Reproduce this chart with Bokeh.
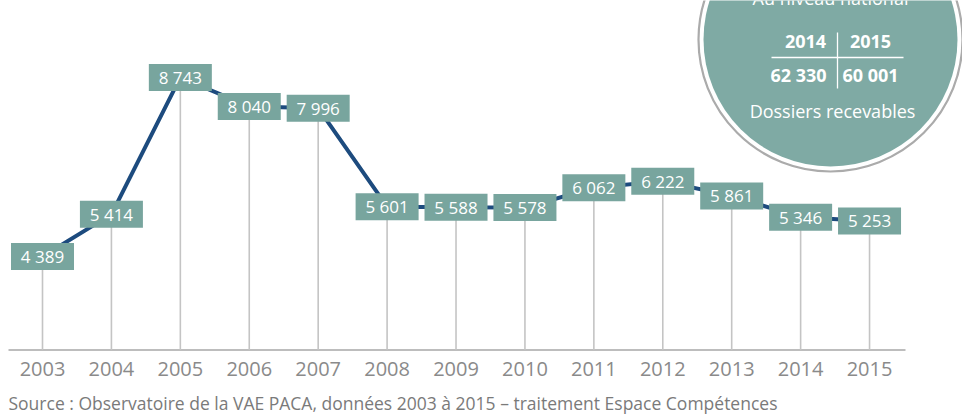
from bokeh.plotting import figure
from bokeh.models import Range1d, ColumnDataSource
from bokeh.embed import file_html
from bokeh.resources import INLINE
from bokeh.core.properties import value

# ---- data ----
years = [2003, 2004, 2005, 2006, 2007, 2008, 2009, 2010, 2011, 2012, 2013, 2014, 2015]
counts = [4389, 5414, 8743, 8040, 7996, 5601, 5588, 5578, 6062, 6222, 5861, 5346, 5253]
count_labels = ["4 389", "5 414", "8 743", "8 040", "7 996", "5 601", "5 588",
                "5 578", "6 062", "6 222", "5 861", "5 346", "5 253"]
year_labels = ["2003", "2004", "2005", "2006", "2007", "2008", "2009",
               "2010", "2011", "2012", "2013", "2014", "2015"]
inset_title = "Au niveau national"
inset_years = ["2014", "2015"]
inset_values = ["62 330", "60 001"]
inset_caption = "Dossiers recevables"
source_text = "Source : Observatoire de la VAE PACA, données 2003 à 2015 – traitement Espace Compétences"

# ---- layout constants (frame covers the whole 962x414 canvas) ----
W, H = 962, 414
PX_PER_YEAR = 68.92
X0 = 2003 - 42 / PX_PER_YEAR
X1 = X0 + W / PX_PER_YEAR
UNITS_PER_PX = 24.32
Y0 = 4389 - (H - 256) * UNITS_PER_PX
Y1 = Y0 + H * UNITS_PER_PX


def dx(px):
    return X0 + px / PX_PER_YEAR


def dy(py):
    return Y0 + (H - py) * UNITS_PER_PX


BASE = dy(349.5)

TEAL = "#78A59E"
CIRCLE_TEAL = "#7FAAA4"
BLUE = "#1D4B7E"
FONT = "Open Sans"

p = figure(width=W, height=H, output_backend="svg", toolbar_location=None,
           x_range=Range1d(X0, X1), y_range=Range1d(Y0, Y1),
           x_axis_location=None, y_axis_location=None,
           min_border=0)
p.outline_line_color = None
p.grid.visible = False
p.background_fill_color = "white"

src = ColumnDataSource(dict(x=years, y=counts, lab=count_labels, yl=year_labels,
                            base=[BASE] * len(years),
                            ty=[dy(368)] * len(years)))

# baseline
p.segment(x0=[dx(8)], y0=[BASE], x1=[dx(905)], y1=[BASE],
          line_color="#BDBDBD", line_width=2)
# year tick labels
p.text("x", "ty", text="yl", source=src, text_color="#8A8A8A",
       text_font=value(FONT), text_font_size="20px",
       text_align="center", text_baseline="middle")
# source line
p.text([dx(8)], [dy(402)], text=[source_text], text_color="#7A7A7A",
       text_font=value(FONT), text_font_size="17.5px",
       text_align="left", text_baseline="middle")
# vertical drop lines
p.segment(x0="x", y0="y", x1="x", y1="base", source=src,
          line_color="#C4C4C4", line_width=1.6)
# series line
p.line("x", "y", source=src, line_color=BLUE, line_width=4)
# label boxes
p.rect("x", "y", width=63, height=27, width_units="screen", height_units="screen",
       source=src, fill_color=TEAL, line_color=None)
p.text("x", "y", text="lab", source=src, text_color="white",
       text_font=value(FONT), text_font_size="17px",
       text_align="center", text_baseline="middle")

# inset circle
cx, cy = dx(830), dy(39)
p.circle([cx], [cy], radius=132, radius_units="screen", fill_color="white",
         line_color="#ABABAB", line_width=2.2)
p.circle([cx], [cy], radius=127, radius_units="screen", fill_color=CIRCLE_TEAL,
         line_color=None)
p.segment(x0=[dx(771)], y0=[dy(57)], x1=[dx(903)], y1=[dy(57)],
          line_color="white", line_width=1.3)
p.segment(x0=[dx(837)], y0=[dy(32)], x1=[dx(837)], y1=[dy(88)],
          line_color="white", line_width=1.3)
p.text([dx(830)], [dy(-3)], text=[inset_title], text_color="white",
       text_font=value(FONT), text_font_size="18px",
       text_align="center", text_baseline="middle")
p.text([dx(805), dx(870)], [dy(41), dy(41)], text=inset_years, text_color="white",
       text_font=value(FONT), text_font_size="18px", text_font_style="bold",
       text_align="center", text_baseline="middle")
p.text([dx(798), dx(870)], [dy(74), dy(74)], text=inset_values, text_color="white",
       text_font=value(FONT), text_font_size="18px", text_font_style="bold",
       text_align="center", text_baseline="middle")
p.text([dx(832)], [dy(110)], text=[inset_caption], text_color="white",
       text_font=value(FONT), text_font_size="18px",
       text_align="center", text_baseline="middle")

open("out.html", "w").write(file_html(p, INLINE))
